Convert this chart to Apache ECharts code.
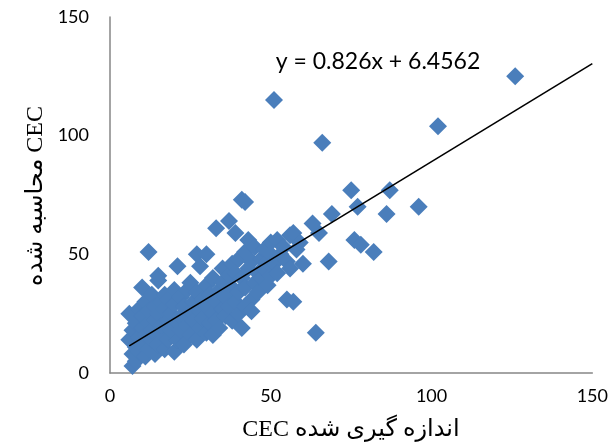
<!DOCTYPE html>
<html>
<head>
<meta charset="utf-8">
<script src="https://cdn.jsdelivr.net/npm/echarts@6/dist/echarts.min.js"></script>
<style>html,body{margin:0;padding:0;background:#fff;}#c{width:611px;height:448px;}</style>
</head>
<body>
<div id="c"></div>
<script>
// measured CEC (x) values
const measured = [
 6,6,7,7,7,8,8,8,9,9,9,10,10,10,10,11,11,11,12,12,12,12,
 13,13,13,14,14,14,15,15,15,15,16,16,16,17,17,17,18,18,18,19,19,20,20,20,21,21,21,
 22,22,22,23,23,24,24,25,25,25,26,26,27,27,27,28,28,28,29,29,30,30,30,30,
 31,31,32,32,32,33,33,33,34,34,35,35,35,36,36,37,37,37,38,38,38,39,39,39,40,40,40,
 41,41,41,42,42,42,42,43,43,44,44,44,45,45,46,46,47,47,48,48,49,49,50,50,50,
 51,51,52,52,53,54,55,55,56,56,57,57,58,59,60,
 63,64,65,66,68,69,75,76,77,78,82,86,87,96,102,126
];
// calculated CEC (y) values
const calculated = [
 25,14,3,8,18,11,21,5,15,27,9,12,19,36,24,7,16,30,10,21,26,51,
 14,18,33,8,22,28,12,41,25,39,17,30,20,10,27,33,14,22,31,18,25,9,29,35,14,45,21,
 24,32,18,12,28,20,35,16,38,26,22,30,14,50,34,19,45,26,23,31,17,28,50,37,
 21,33,16,25,40,30,61,22,35,19,27,44,38,24,32,64,41,28,22,36,46,59,30,42,25,34,48,
 19,73,40,72,28,51,36,44,56,31,47,26,38,53,42,34,48,40,44,52,37,47,41,55,50,
 115,46,56,42,50,53,31,47,58,44,30,59,52,55,46,
 63,17,59,97,47,67,77,56,70,54,51,67,77,70,104,125
];
const xTicks = [0, 50, 100, 150];
const yTicks = [0, 50, 100, 150];
const slope = 0.826;
const intercept = 6.4562;
const equationText = 'y = 0.826x + 6.4562';
const xTitle = 'CEC اندازه گیری شده';
const yTitle = 'محاسبه شده CEC';

const points = measured.map((x, i) => [x, calculated[i]]);
const xMin = Math.min(...measured);
const xEnd = xTicks[xTicks.length - 1];
const trend = [[xMin, slope * xMin + intercept], [xEnd, slope * xEnd + intercept]];

const chart = echarts.init(document.getElementById('c'), null, {renderer: 'canvas'});
const axisLine = {show: true, lineStyle: {color: '#868686', width: 1.5}};
chart.setOption({
  animation: false,
  grid: {left: 110, right: 17, top: 17, bottom: 75},
  xAxis: {
    type: 'value', min: xTicks[0], max: xEnd, interval: 50,
    axisLine: axisLine, axisTick: {show: false}, splitLine: {show: false},
    axisLabel: {color: '#000', fontSize: 18, fontFamily: 'Lato, "Liberation Sans", sans-serif', margin: 14}
  },
  yAxis: {
    type: 'value', min: yTicks[0], max: yTicks[yTicks.length - 1], interval: 50,
    axisLine: axisLine, axisTick: {show: false}, splitLine: {show: false},
    axisLabel: {color: '#000', fontSize: 18, fontFamily: 'Lato, "Liberation Sans", sans-serif', margin: 21}
  },
  series: [
    {
      type: 'scatter', data: points, symbol: 'diamond', symbolSize: 18,
      itemStyle: {color: '#4a7ebb', opacity: 1}
    },
    {
      type: 'line', data: trend, showSymbol: false, symbol: 'none',
      lineStyle: {color: '#000', width: 1.6}, z: 5
    }
  ],
  graphic: [
    {type: 'text', style: {text: equationText, x: 0, y: 0,
      font: '23px Lato, "Liberation Sans", sans-serif', fill: '#000', textAlign: 'center', textVerticalAlign: 'middle'},
      position: [378, 62]},
    {type: 'text', style: {text: xTitle, font: '24px "Liberation Serif", "DejaVu Sans", serif', fill: '#000',
      textAlign: 'center', textVerticalAlign: 'middle'}, position: [351, 430]},
    {type: 'text', style: {text: yTitle, font: '24px "Liberation Serif", "DejaVu Sans", serif', fill: '#000',
      textAlign: 'center', textVerticalAlign: 'middle'}, position: [36, 196], rotation: Math.PI / 2}
  ]
});
</script>
</body>
</html>
